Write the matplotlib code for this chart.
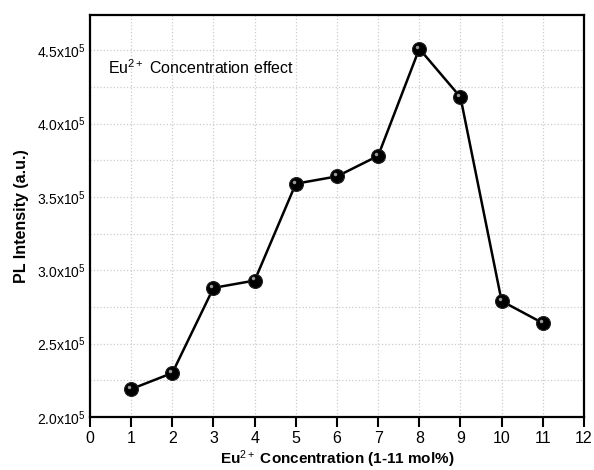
import numpy as np
import matplotlib
matplotlib.use("Agg")
import matplotlib.pyplot as plt
from matplotlib.ticker import MultipleLocator, FuncFormatter
from matplotlib.transforms import ScaledTranslation

plt.rcParams['font.family'] = ['Liberation Sans', 'DejaVu Sans']
plt.rcParams['mathtext.fontset'] = 'custom'
plt.rcParams['mathtext.rm'] = 'Liberation Sans'
plt.rcParams['mathtext.it'] = 'Liberation Sans:italic'
plt.rcParams['mathtext.bf'] = 'Liberation Sans:bold'

# concentracion de Eu2+ (mol%) y la intensidad PL
concentracion = [1, 2, 3, 4, 5, 6, 7, 8, 9, 10, 11]
intensidad = [2.19e5, 2.30e5, 2.88e5, 2.93e5, 3.59e5, 3.64e5, 3.78e5,
              4.51e5, 4.18e5, 2.79e5, 2.64e5]

fig = plt.figure(figsize=(5.94, 4.70), dpi=100)
ax = fig.add_axes([0.1515, 0.1128, 0.8316, 0.8553])

ax.plot(concentracion, intensidad, '-', color='black', lw=1.8, zorder=3)
ax.plot(concentracion, intensidad, 'o', color='black', ms=10,
        mec='#222222', mew=0.8, zorder=4)
# brillo de las esferitas
brillo = ax.transData + ScaledTranslation(-1.5/72, 1.5/72, fig.dpi_scale_trans)
ax.plot(concentracion, intensidad, 'o', color='#9a9a9a', ms=2.5, mew=0,
        zorder=5, transform=brillo)

ax.set_xlim(0, 12)
ax.set_ylim(2.0e5, 4.74e5)
ax.xaxis.set_major_locator(MultipleLocator(1))
ax.yaxis.set_major_locator(MultipleLocator(0.5e5))
ax.yaxis.set_minor_locator(MultipleLocator(0.25e5))
ax.yaxis.set_major_formatter(FuncFormatter(lambda v, p: '%.1fx10$^5$' % (v / 1e5)))

ax.grid(True, which='major', axis='x', color='#cccccc', ls=':', lw=0.9)
ax.grid(True, which='both', axis='y', color='#cccccc', ls=':', lw=0.9)
ax.set_axisbelow(True)

ax.tick_params(axis='x', direction='out', length=7, width=1.5, labelsize=11.5, pad=3)
ax.tick_params(axis='y', which='both', length=0, labelsize=10, pad=3)
for s in ax.spines.values():
    s.set_linewidth(1.6)

ax.set_xlabel('Eu$^{2+}$ Concentration (1-11 mol%)', fontsize=11, fontweight='bold', labelpad=2)
ax.set_ylabel('PL Intensity (a.u.)', fontsize=11.5, fontweight='bold', labelpad=6)

ax.text(0.036, 0.868, 'Eu$^{2+}$ Concentration effect', transform=ax.transAxes,
        fontsize=11.5, va='center', ha='left')

fig.savefig('out.png', dpi=100)
